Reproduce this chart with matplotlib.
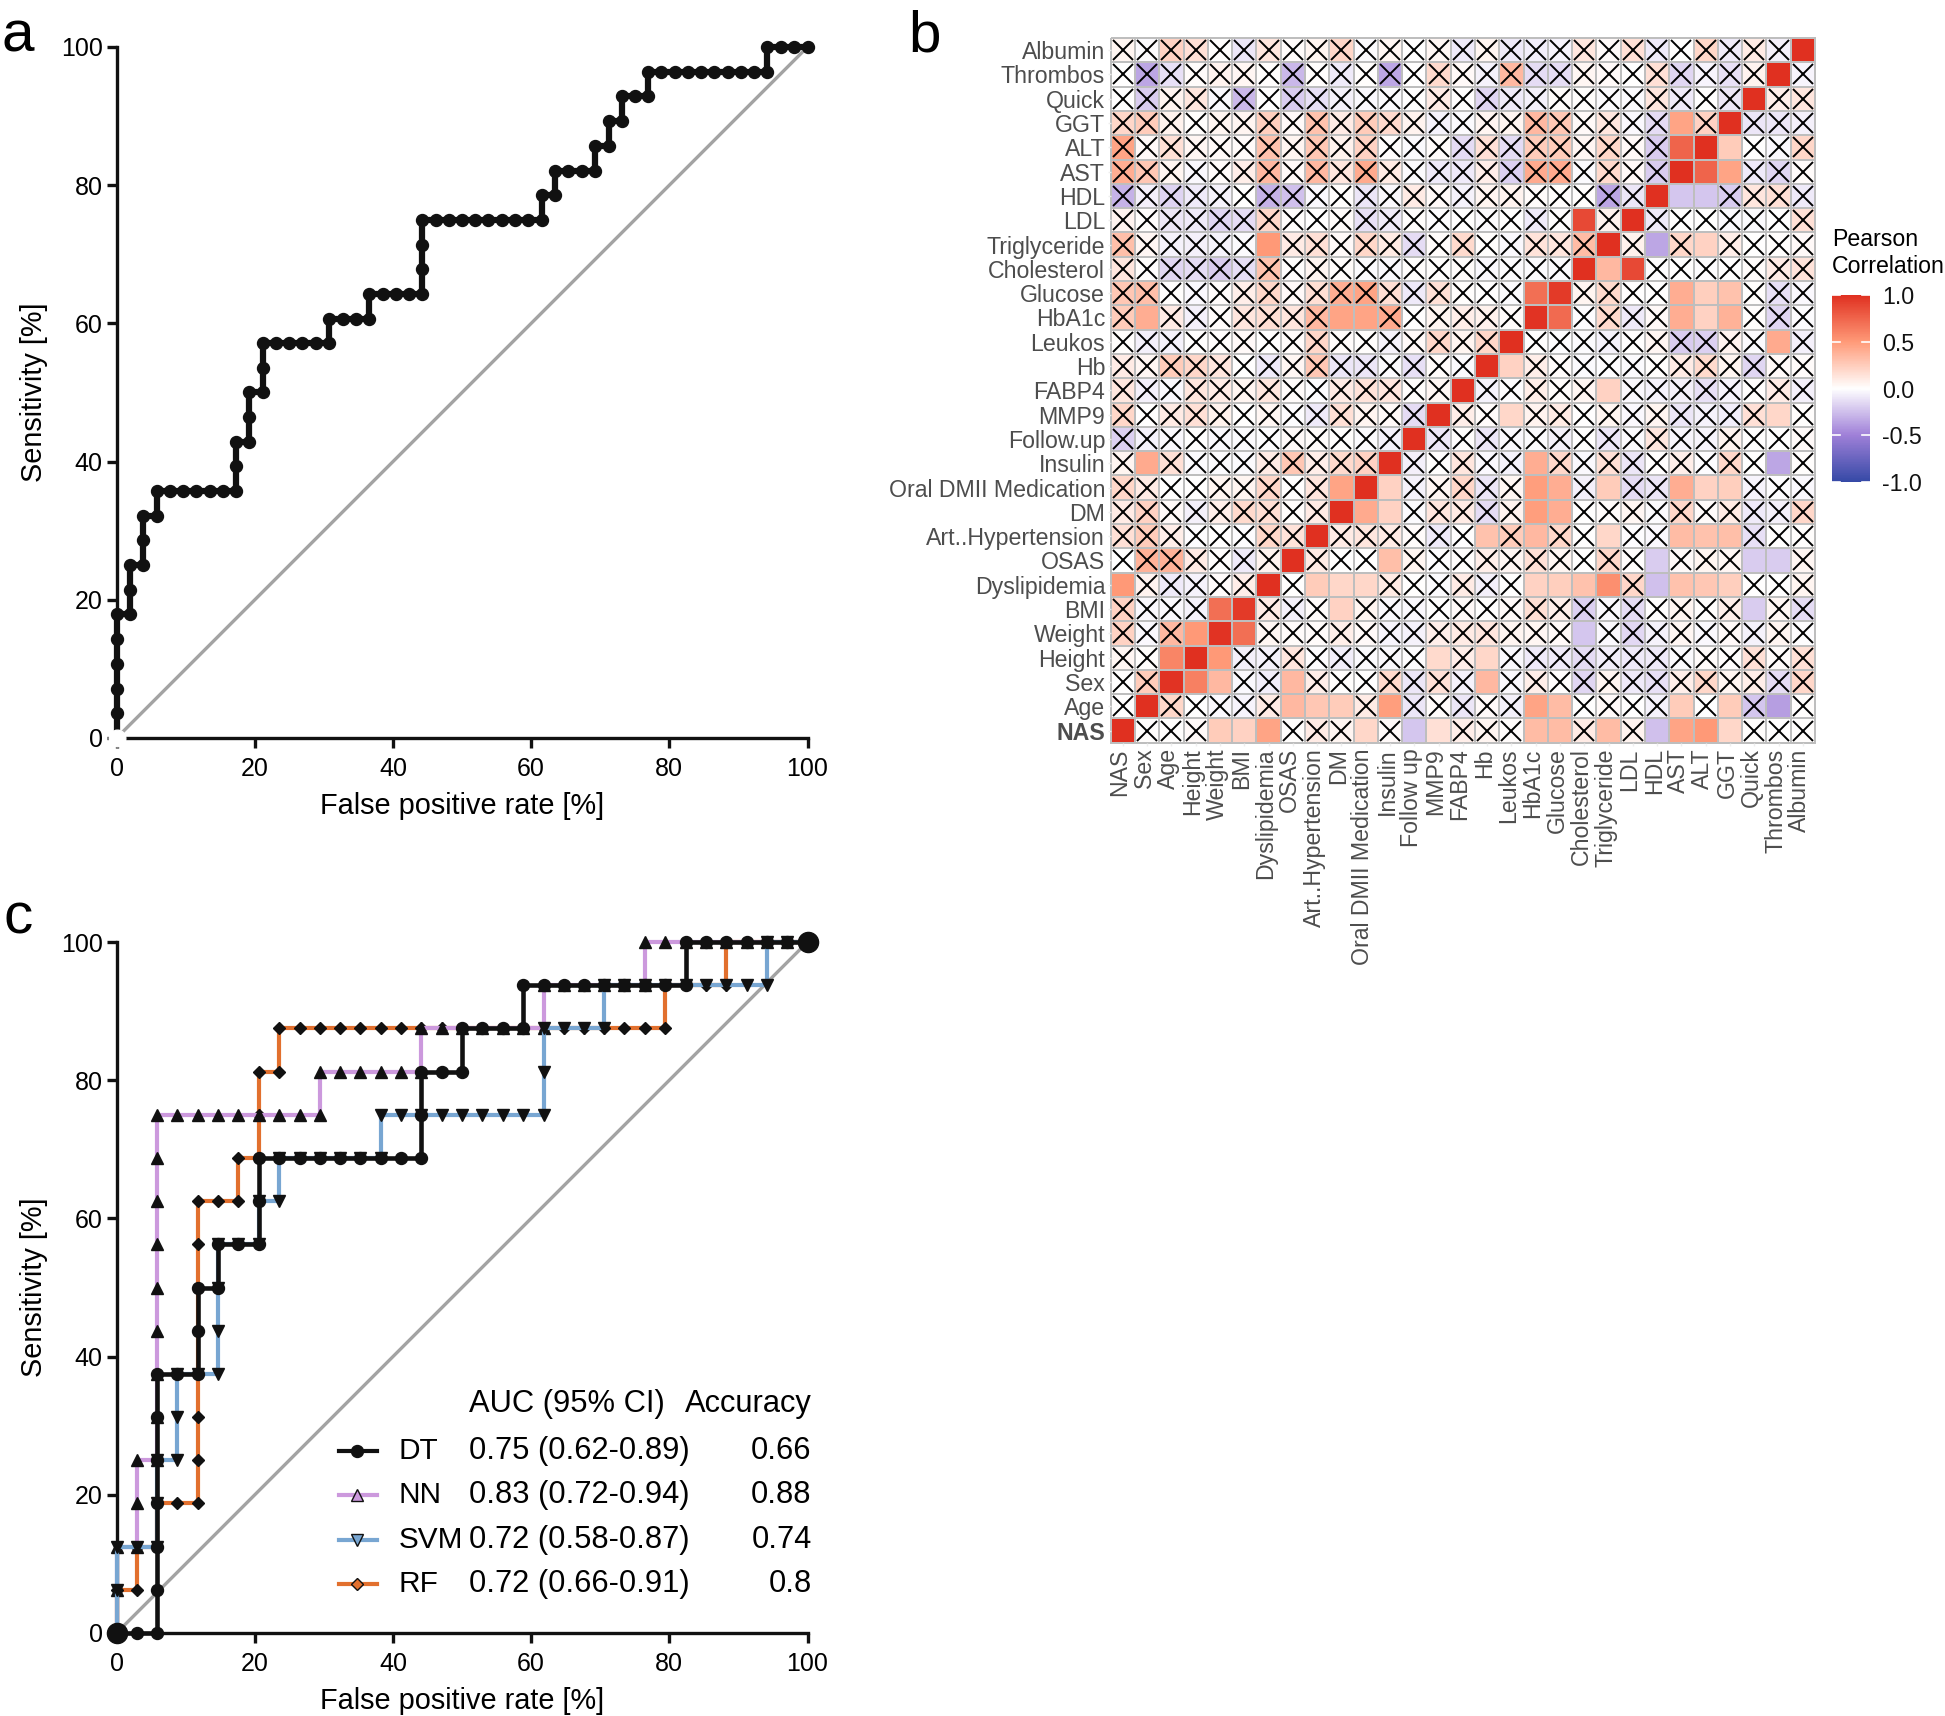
import numpy as np
import matplotlib
matplotlib.use("Agg")
import matplotlib.pyplot as plt
from matplotlib.colors import LinearSegmentedColormap
from matplotlib.cm import ScalarMappable
from matplotlib.colors import Normalize
from matplotlib.transforms import ScaledTranslation

plt.rcParams["font.family"] = ["Liberation Sans", "DejaVu Sans"]
plt.rcParams["axes.unicode_minus"] = False

W, H = 1945, 1716

# panel a, single ROC curve
a_fpr = [0, 0, 0, 0, 0, 0, 1.9, 1.9, 1.9, 3.8, 3.8, 3.8, 5.8, 5.8, 7.7, 9.6, 11.5, 13.5, 15.4, 17.3, 17.3, 17.3,
         19.2, 19.2, 19.2, 21.2, 21.2, 21.2, 23.1, 25.0, 26.9, 28.8, 30.8, 30.8, 32.7, 34.6, 36.5, 36.5,
         38.5, 40.4, 42.3, 44.2, 44.2, 44.2, 44.2, 46.2, 48.1, 50.0, 51.9, 53.8, 55.8, 57.7, 59.6, 61.5, 61.5,
         63.5, 63.5, 65.4, 67.3, 69.2, 69.2, 71.2, 71.2, 73.1, 73.1, 75.0, 76.9, 76.9,
         78.8, 80.8, 82.7, 84.6, 86.5, 88.5, 90.4, 92.3, 94.2, 94.2, 96.2, 98.1, 100]
a_sens = [0, 3.6, 7.1, 10.7, 14.3, 17.9, 17.9, 21.4, 25.0, 25.0, 28.6, 32.1, 32.1, 35.7, 35.7, 35.7, 35.7, 35.7, 35.7, 35.7, 39.3, 42.9,
          42.9, 46.4, 50.0, 50.0, 53.6, 57.1, 57.1, 57.1, 57.1, 57.1, 57.1, 60.7, 60.7, 60.7, 60.7, 64.3,
          64.3, 64.3, 64.3, 64.3, 67.9, 71.4, 75.0, 75.0, 75.0, 75.0, 75.0, 75.0, 75.0, 75.0, 75.0, 75.0, 78.6,
          78.6, 82.1, 82.1, 82.1, 82.1, 85.7, 85.7, 89.3, 89.3, 92.9, 92.9, 92.9, 96.4,
          96.4, 96.4, 96.4, 96.4, 96.4, 96.4, 96.4, 96.4, 96.4, 100, 100, 100, 100]

# panel c, four ROC curves
dt_fpr = [0, 2.9, 5.9, 5.9, 5.9, 5.9, 5.9, 5.9, 5.9, 8.8, 11.8, 11.8, 11.8, 14.7, 14.7, 17.6, 20.6, 20.6, 20.6,
          23.5, 26.5, 29.4, 32.4, 35.3, 38.2, 41.2, 44.1, 44.1, 44.1, 47.1, 50.0, 50.0, 52.9, 55.9, 58.8, 58.8,
          61.8, 64.7, 67.6, 70.6, 73.5, 76.5, 79.4, 82.4, 82.4, 85.3, 88.2, 91.2, 94.1, 97.1, 100]
dt_sens = [0, 0, 0, 6.25, 12.5, 18.75, 25, 31.25, 37.5, 37.5, 37.5, 43.75, 50, 50, 56.25, 56.25, 56.25, 62.5, 68.75,
           68.75, 68.75, 68.75, 68.75, 68.75, 68.75, 68.75, 68.75, 75, 81.25, 81.25, 81.25, 87.5, 87.5, 87.5, 87.5, 93.75,
           93.75, 93.75, 93.75, 93.75, 93.75, 93.75, 93.75, 93.75, 100, 100, 100, 100, 100, 100, 100]
nn_fpr = [0, 0, 0, 2.9, 2.9, 2.9, 5.9, 5.9, 5.9, 5.9, 5.9, 5.9, 5.9, 5.9, 5.9,
          8.8, 11.8, 14.7, 17.6, 20.6, 23.5, 26.5, 29.4, 29.4, 32.4, 35.3, 38.2, 41.2, 44.1, 44.1,
          47.1, 50.0, 52.9, 55.9, 58.8, 61.8, 61.8, 64.7, 67.6, 70.6, 73.5, 76.5, 76.5, 79.4, 82.4, 85.3, 88.2, 91.2, 94.1, 97.1, 100]
nn_sens = [0, 6.25, 12.5, 12.5, 18.75, 25, 25, 31.25, 37.5, 43.75, 50, 56.25, 62.5, 68.75, 75,
           75, 75, 75, 75, 75, 75, 75, 75, 81.25, 81.25, 81.25, 81.25, 81.25, 81.25, 87.5,
           87.5, 87.5, 87.5, 87.5, 87.5, 87.5, 93.75, 93.75, 93.75, 93.75, 93.75, 93.75, 100, 100, 100, 100, 100, 100, 100, 100, 100]
svm_fpr = [0, 0, 0, 2.9, 5.9, 5.9, 5.9, 8.8, 8.8, 8.8, 11.8, 14.7, 14.7, 14.7, 14.7, 17.6, 20.6, 20.6, 23.5, 23.5,
           26.5, 29.4, 32.4, 35.3, 38.2, 38.2, 41.2, 44.1, 47.1, 50.0, 52.9, 55.9, 58.8, 61.8, 61.8, 61.8,
           64.7, 67.6, 70.6, 70.6, 73.5, 76.5, 79.4, 82.4, 85.3, 88.2, 91.2, 94.1, 94.1, 97.1, 100]
svm_sens = [0, 6.25, 12.5, 12.5, 12.5, 18.75, 25, 25, 31.25, 37.5, 37.5, 37.5, 43.75, 50, 56.25, 56.25, 56.25, 62.5, 62.5, 68.75,
            68.75, 68.75, 68.75, 68.75, 68.75, 75, 75, 75, 75, 75, 75, 75, 75, 75, 81.25, 87.5,
            87.5, 87.5, 87.5, 93.75, 93.75, 93.75, 93.75, 93.75, 93.75, 93.75, 93.75, 93.75, 100, 100, 100]
rf_fpr = [0, 0, 2.9, 2.9, 5.9, 5.9, 8.8, 11.8, 11.8, 11.8, 11.8, 11.8, 11.8, 11.8, 11.8, 14.7, 17.6, 17.6, 20.6, 20.6, 20.6,
          23.5, 23.5, 26.5, 29.4, 32.4, 35.3, 38.2, 41.2, 44.1, 47.1, 50.0, 52.9, 55.9, 58.8, 61.8, 64.7, 67.6, 70.6, 73.5, 76.5, 79.4, 79.4,
          82.4, 85.3, 88.2, 88.2, 91.2, 94.1, 97.1, 100]
rf_sens = [0, 6.25, 6.25, 12.5, 12.5, 18.75, 18.75, 18.75, 25, 31.25, 37.5, 43.75, 50, 56.25, 62.5, 62.5, 62.5, 68.75, 68.75, 75, 81.25,
           81.25, 87.5, 87.5, 87.5, 87.5, 87.5, 87.5, 87.5, 87.5, 87.5, 87.5, 87.5, 87.5, 87.5, 87.5, 87.5, 87.5, 87.5, 87.5, 87.5, 87.5, 93.75,
           93.75, 93.75, 93.75, 100, 100, 100, 100, 100]

legend_names = ["DT", "NN", "SVM", "RF"]
legend_auc = ["0.75 (0.62-0.89)", "0.83 (0.72-0.94)", "0.72 (0.58-0.87)", "0.72 (0.66-0.91)"]
legend_acc = ["0.66", "0.88", "0.74", "0.8"]

# panel b, correlation heatmap, top row first
row_labels = ["Albumin", "Thrombos", "Quick", "GGT", "ALT", "AST", "HDL", "LDL", "Triglyceride", "Cholesterol",
              "Glucose", "HbA1c", "Leukos", "Hb", "FABP4", "MMP9", "Follow.up", "Insulin", "Oral DMII Medication", "DM",
              "Art..Hypertension", "OSAS", "Dyslipidemia", "BMI", "Weight", "Height", "Sex", "Age", "NAS"]
col_labels = ["NAS", "Sex", "Age", "Height", "Weight", "BMI", "Dyslipidemia", "OSAS", "Art..Hypertension", "DM",
              "Oral DMII Medication", "Insulin", "Follow up", "MMP9", "FABP4", "Hb", "Leukos", "HbA1c", "Glucose",
              "Cholesterol", "Triglyceride", "LDL", "HDL", "AST", "ALT", "GGT", "Quick", "Thrombos", "Albumin"]
corr = [
    [.05, -.02, .22, .15, 0, -.1, .12, .02, .05, .2, -.02, .05, 0, .04, -.08, .05, -.08, -.07, -.05, .12, .03, .15, -.08, 0, .2, -.08, .1, -.06, 1],
    [0, -.35, -.12, .02, .06, .04, .01, -.28, .01, -.08, .01, -.35, 0, .18, .03, -.05, .35, -.14, -.14, .04, .03, 0, .15, -.16, -.04, -.12, .06, 1, -.04],
    [0, -.2, .06, .12, -.03, -.28, 0, -.2, -.12, -.06, -.03, -.02, 0, .1, 0, -.16, -.08, -.06, .02, .01, -.02, -.02, .12, -.08, 0, -.1, 1, .08, .12],
    [.2, .25, .07, .01, .05, .05, .24, .03, .3, .1, .25, .18, .06, -.05, -.02, .05, .05, .35, .28, .03, .12, -.03, -.14, .45, .22, 1, -.1, -.1, -.06],
    [.45, .03, .15, .04, .03, .02, .3, .05, .28, .07, .22, .01, -.02, .02, -.14, .15, -.14, .25, .25, .04, .2, .03, -.2, .75, 1, .25, 0, -.03, .2],
    [.4, .28, .05, -.03, .02, .08, .35, .03, .35, .12, .42, .1, -.02, -.08, -.08, .08, -.18, .42, .42, -.02, .18, .03, -.2, 1, .75, .45, -.08, -.16, .02],
    [-.3, -.06, -.17, -.08, -.05, 0, -.3, -.25, -.03, .01, -.1, -.03, .1, .03, -.05, .05, .06, .02, .01, .01, -.35, -.1, 1, -.22, -.22, -.2, .12, .15, -.08],
    [.06, .01, -.1, -.08, -.16, -.14, .2, .01, 0, .02, -.12, -.08, .01, -.01, 0, -.02, 0, -.08, -.01, .88, .07, 1, -.08, 0, 0, -.03, -.02, 0, .15],
    [.32, .04, -.05, -.06, -.05, -.02, .5, .1, .15, .03, .2, .1, -.14, .02, .18, .01, -.03, .14, .12, .33, 1, .07, -.35, .2, .22, .08, 0, .01, .03],
    [.12, .01, -.16, -.14, -.2, -.13, .3, .01, .05, .02, -.02, -.03, .01, .01, .02, -.03, -.02, -.02, -.02, 1, .35, .88, -.01, 0, -.01, 0, .02, .1, .14],
    [.28, .32, .01, -.03, .02, .08, .2, .03, .16, .4, .45, .16, -.08, .15, .01, 0, -.02, .7, .95, .05, .18, 0, 0, .4, .24, .3, .01, -.12, -.03],
    [.25, .4, .1, -.06, .02, .12, .16, .12, .35, .45, .45, .42, 0, .05, .08, .07, .02, .98, .72, -.01, .18, -.08, .03, .4, .22, .38, .01, -.16, -.01],
    [.01, -.06, -.05, 0, .01, .03, 0, .02, .2, .02, .01, -.05, .03, .2, .05, .2, 1, 0, -.01, -.02, -.05, 0, .04, -.2, -.18, .06, -.02, .42, -.06],
    [.1, .04, .25, .2, .12, 0, -.08, .04, .28, -.1, -.1, -.02, -.12, .02, -.02, 1, .22, .08, .02, -.02, -.01, -.02, .01, .1, .18, .05, -.16, .03, .02],
    [.12, -.06, -.03, .12, .1, .05, .12, .02, -.01, .1, .14, .12, .01, .04, 1, -.05, -.01, .08, .02, .04, .22, -.03, -.05, -.06, -.12, -.04, .01, .1, -.06],
    [.2, 0, .1, .15, .07, 0, .04, -.01, -.08, .15, .05, .03, -.14, 1, .08, .02, .2, .06, .1, 0, .05, -.03, .05, -.1, -.05, -.07, .15, .2, .01],
    [-.18, -.05, -.03, 0, -.03, -.02, -.01, .03, .02, .01, -.02, -.05, 1, -.1, .01, -.1, -.03, -.02, -.06, 0, -.1, -.02, .12, -.04, -.04, .06, 0, 0, .03],
    [.05, .42, .15, -.02, -.02, -.02, .1, .28, .08, .18, .22, 1, -.06, .01, .12, -.03, -.05, .4, .2, -.03, .15, -.1, 0, .08, -.01, .2, 0, -.35, .01],
    [.2, .1, 0, 0, .05, .05, .2, 0, .12, .45, 1, .22, -.05, .04, .2, -.1, .04, .48, .4, -.06, .25, -.14, -.1, .4, .22, .24, -.04, -.01, -.03],
    [.1, .22, .03, -.06, .08, .18, .16, .01, .1, 1, .42, .22, -.02, .12, .1, -.14, .06, .48, .4, 0, .02, .04, -.02, .2, .02, .1, -.08, -.06, .2],
    [.15, .25, .08, -.01, 0, -.01, .2, .14, 1, .1, .12, .1, .02, -.08, 0, .3, .25, .35, .2, 0, .2, -.01, -.03, .33, .3, .32, -.12, 0, .01],
    [0, .38, .38, .1, 0, -.08, .06, 1, .1, 0, 0, .32, .05, -.01, .01, .08, .04, .15, .05, 0, .2, .01, -.2, .03, .05, .04, -.2, -.2, .04],
    [.5, .06, -.08, -.05, .02, .08, 1, 0, .25, .2, .2, .1, 0, -.02, .1, -.06, 0, .22, .24, .3, .55, .2, -.25, .3, .28, .24, 0, 0, .05],
    [.22, -.03, -.03, -.05, .7, .95, .1, -.06, .02, .22, .05, -.03, -.03, 0, .03, 0, .03, .16, .08, -.18, -.03, -.14, 0, .05, .01, .08, -.2, .04, -.14],
    [.22, -.03, .35, .5, .98, .7, .04, .02, .02, .08, .03, -.04, -.05, .08, .1, .12, .05, .04, .03, -.22, -.03, -.15, -.05, .04, -.03, .03, -.05, .05, -.01],
    [.04, .01, .6, 1, .5, -.06, -.05, .12, -.01, -.07, -.02, -.03, -.01, .18, .08, .2, -.03, -.08, -.08, -.14, -.07, -.08, -.08, -.02, .02, .01, .15, .02, .15],
    [0, .25, .98, .62, .35, -.03, -.07, .35, .08, .01, 0, .18, -.1, .15, -.05, .35, -.03, .08, .01, -.16, .05, -.08, -.12, .08, .2, .05, .08, -.14, .2],
    [0, 1, .2, 0, -.03, -.04, .1, .35, .28, .25, .1, .48, -.1, .02, -.1, .03, -.06, .45, .33, 0, .03, 0, -.05, .25, 0, .25, -.22, -.38, .01],
    [1, .01, .01, .03, .25, .22, .45, .01, .1, .05, .2, .03, -.22, .15, .08, .05, .02, .33, .33, .1, .33, .06, -.25, .45, .5, .2, .01, 0, .01],
]
# column numbers without a cross (significant cells), one list per row
significant = [
    [28], [27], [26], [23, 25], [23, 24, 25], [23, 24, 25], [22, 23, 24], [19, 21], [6, 20, 22, 24], [19, 20, 21],
    [17, 18, 23, 24, 25], [1, 9, 10, 17, 18, 23, 24, 25], [16, 27], [15, 16], [14, 20], [13, 16, 27], [12],
    [1, 11, 17, 27], [9, 10, 11, 17, 18, 20, 23, 24, 25], [9, 10, 11, 17, 18], [8, 15, 17, 20, 23, 24, 25],
    [7, 11, 22, 26, 27], [0, 6, 8, 9, 10, 17, 18, 19, 20, 22, 23, 24, 25], [4, 5, 9, 26], [3, 4, 5, 19],
    [2, 3, 4, 13, 15], [2, 3, 4, 7, 15], [1, 7, 8, 9, 11, 17, 18, 23, 25, 27],
    [0, 4, 5, 6, 10, 12, 13, 17, 18, 20, 22, 23, 24, 25],
]
cbar_ticks = [-1.0, -0.5, 0.0, 0.5, 1.0]

BLACK = "#111111"
GREY = "#A3A3A3"
PURPLE = "#CC99DD"
BLUE = "#78A6D2"
ORANGE = "#E2702E"

corr_cmap = LinearSegmentedColormap.from_list(
    "corr", [(0, "#3549A6"), (0.25, "#9F80D8"), (0.5, "#FFFFFF"), (0.75, "#FF9A78"), (1, "#E03020")]
)


def px_axes(fig, left, top, right, bottom):
    return fig.add_axes([left / W, 1 - bottom / H, (right - left) / W, (bottom - top) / H])


def style_roc(ax):
    ax.set_xlim(0, 100)
    ax.set_ylim(0, 100)
    ax.spines["top"].set_visible(False)
    ax.spines["right"].set_visible(False)
    ax.spines["left"].set_linewidth(2.4)
    ax.spines["bottom"].set_linewidth(2.4)
    ax.spines["left"].set_color(BLACK)
    ax.spines["bottom"].set_color(BLACK)
    ax.set_xticks(range(0, 101, 20))
    ax.set_yticks(range(0, 101, 20))
    ax.tick_params(length=7, width=2.4, labelsize=18, color=BLACK)
    ax.tick_params(axis="x", pad=6.5)
    ax.tick_params(axis="y", pad=3)
    ax.set_xlabel("False positive rate [%]", fontsize=20.8, labelpad=8)
    ax.set_ylabel("Sensitivity [%]", fontsize=20.8, labelpad=9.5)


def draw_panel_a(fig):
    ax = px_axes(fig, 116.6, 47, 807.5, 738)
    style_roc(ax)
    ax.plot([0, 100], [0, 100], color=GREY, lw=2.4, clip_on=False, zorder=2)
    ax.plot(a_fpr, a_sens, color=BLACK, lw=4.5, marker="o", ms=8.6, clip_on=False, zorder=3)
    # the first point is drawn white and cuts the axes
    ax.plot([0], [0], marker="o", ms=12, color="white", clip_on=False, zorder=5)


def draw_panel_c(fig):
    ax = px_axes(fig, 116.6, 942, 807.5, 1633)
    style_roc(ax)
    ax.plot([0, 100], [0, 100], color=GREY, lw=2.4, clip_on=False, zorder=2)
    ax.plot(rf_fpr, rf_sens, color=ORANGE, lw=3, marker="D", ms=6, mfc=BLACK, mec=BLACK, clip_on=False, zorder=3)
    ax.plot(nn_fpr, nn_sens, color=PURPLE, lw=3, marker="^", ms=9, mfc=BLACK, mec=BLACK, clip_on=False, zorder=3.1)
    ax.plot(svm_fpr, svm_sens, color=BLUE, lw=3, marker="v", ms=9, mfc=BLACK, mec=BLACK, clip_on=False, zorder=3.2)
    ax.plot(dt_fpr, dt_sens, color=BLACK, lw=3.3, marker="o", ms=8.6, clip_on=False, zorder=3.3)
    ax.plot([0, 100], [0, 100], ls="none", marker="o", ms=14.5, color=BLACK, clip_on=False, zorder=4)

    # legend table
    ax.text(51, 33.1, "AUC (95% CI)", fontsize=22.2, va="center")
    ax.text(100.6, 33.1, "Accuracy", fontsize=22.2, va="center", ha="right")
    styles = [(BLACK, "o", BLACK, 8.6), (PURPLE, "^", PURPLE, 8), (BLUE, "v", BLUE, 8), (ORANGE, "D", ORANGE, 6)]
    for i, y in enumerate([26.4, 20, 13.5, 7.1]):
        color, marker, face, size = styles[i]
        ax.plot([32.2, 37.7], [y, y], color=color, lw=3, zorder=3)
        ax.plot([34.8], [y], marker=marker, ms=size, mfc=face, mec=BLACK, mew=1, ls="none", zorder=3.5)
        ax.text(40.8, y, legend_names[i], fontsize=21.4, va="center")
        ax.text(51, y, legend_auc[i], fontsize=22.2, va="center")
        ax.text(100.6, y, legend_acc[i], fontsize=22.2, va="center", ha="right")


def draw_heatmap(fig):
    ax = px_axes(fig, 1110.7, 38, 1815, 742.7)
    values = np.array(corr)
    n_rows, n_cols = values.shape
    ax.pcolormesh(np.arange(n_cols + 1), np.arange(n_rows + 1), values, cmap=corr_cmap, vmin=-1, vmax=1,
                  edgecolors="#BEBEBE", linewidth=1.3, clip_on=False)
    ax.set_xlim(0, n_cols)
    ax.set_ylim(n_rows, 0)
    for s in ax.spines.values():
        s.set_visible(False)

    cross_x, cross_y = [], []
    for r in range(n_rows):
        for c in range(n_cols):
            if c not in significant[r]:
                cross_x.append(c + 0.5)
                cross_y.append(r + 0.5)
    ax.plot(cross_x, cross_y, ls="none", marker="x", ms=14, mew=1.4, color="black", zorder=3)

    ax.set_xticks(np.arange(n_cols) + 0.5)
    ax.set_yticks(np.arange(n_rows) + 0.5)
    ax.set_xticklabels(col_labels, rotation=90, ha="center", va="top", fontsize=16.7, color="#4D4D4D")
    ax.set_yticklabels(row_labels, fontsize=16.7, color="#4D4D4D")
    ax.get_yticklabels()[-1].set_fontweight("bold")
    ax.tick_params(length=2.5, width=1, color="#EEEEEE", pad=1.5)
    # x labels sit a little left of their cells
    shift_x = ScaledTranslation(-3 / 100, 0, fig.dpi_scale_trans)
    for label in ax.get_xticklabels():
        label.set_transform(label.get_transform() + shift_x)

    cax = px_axes(fig, 1832, 295, 1870, 482)
    cb = fig.colorbar(ScalarMappable(Normalize(-1, 1), corr_cmap), cax=cax, ticks=cbar_ticks)
    cb.outline.set_visible(False)
    cb.ax.tick_params(length=0, labelsize=16.7, pad=8.5, labelcolor="#111111")
    for t in cbar_ticks:
        cax.plot([0, 0.2], [t, t], color="white", lw=1.2, transform=cax.get_yaxis_transform(), clip_on=True)
        cax.plot([0.8, 1], [t, t], color="white", lw=1.2, transform=cax.get_yaxis_transform(), clip_on=True)
    fig.text(1832 / W, 1 - 278 / H, "Pearson\nCorrelation", fontsize=16.7, va="bottom", ha="left", linespacing=1.25)


def main():
    fig = plt.figure(figsize=(W / 100, H / 100), dpi=100)
    draw_panel_a(fig)
    draw_heatmap(fig)
    draw_panel_c(fig)
    fig.text(2 / W, 1 - 52 / H, "a", fontsize=42, va="baseline")
    fig.text(908 / W, 1 - 52 / H, "b", fontsize=42, va="baseline")
    fig.text(3 / W, 1 - 933 / H, "c", fontsize=42, va="baseline")
    fig.savefig("out.png", dpi=100)


main()
